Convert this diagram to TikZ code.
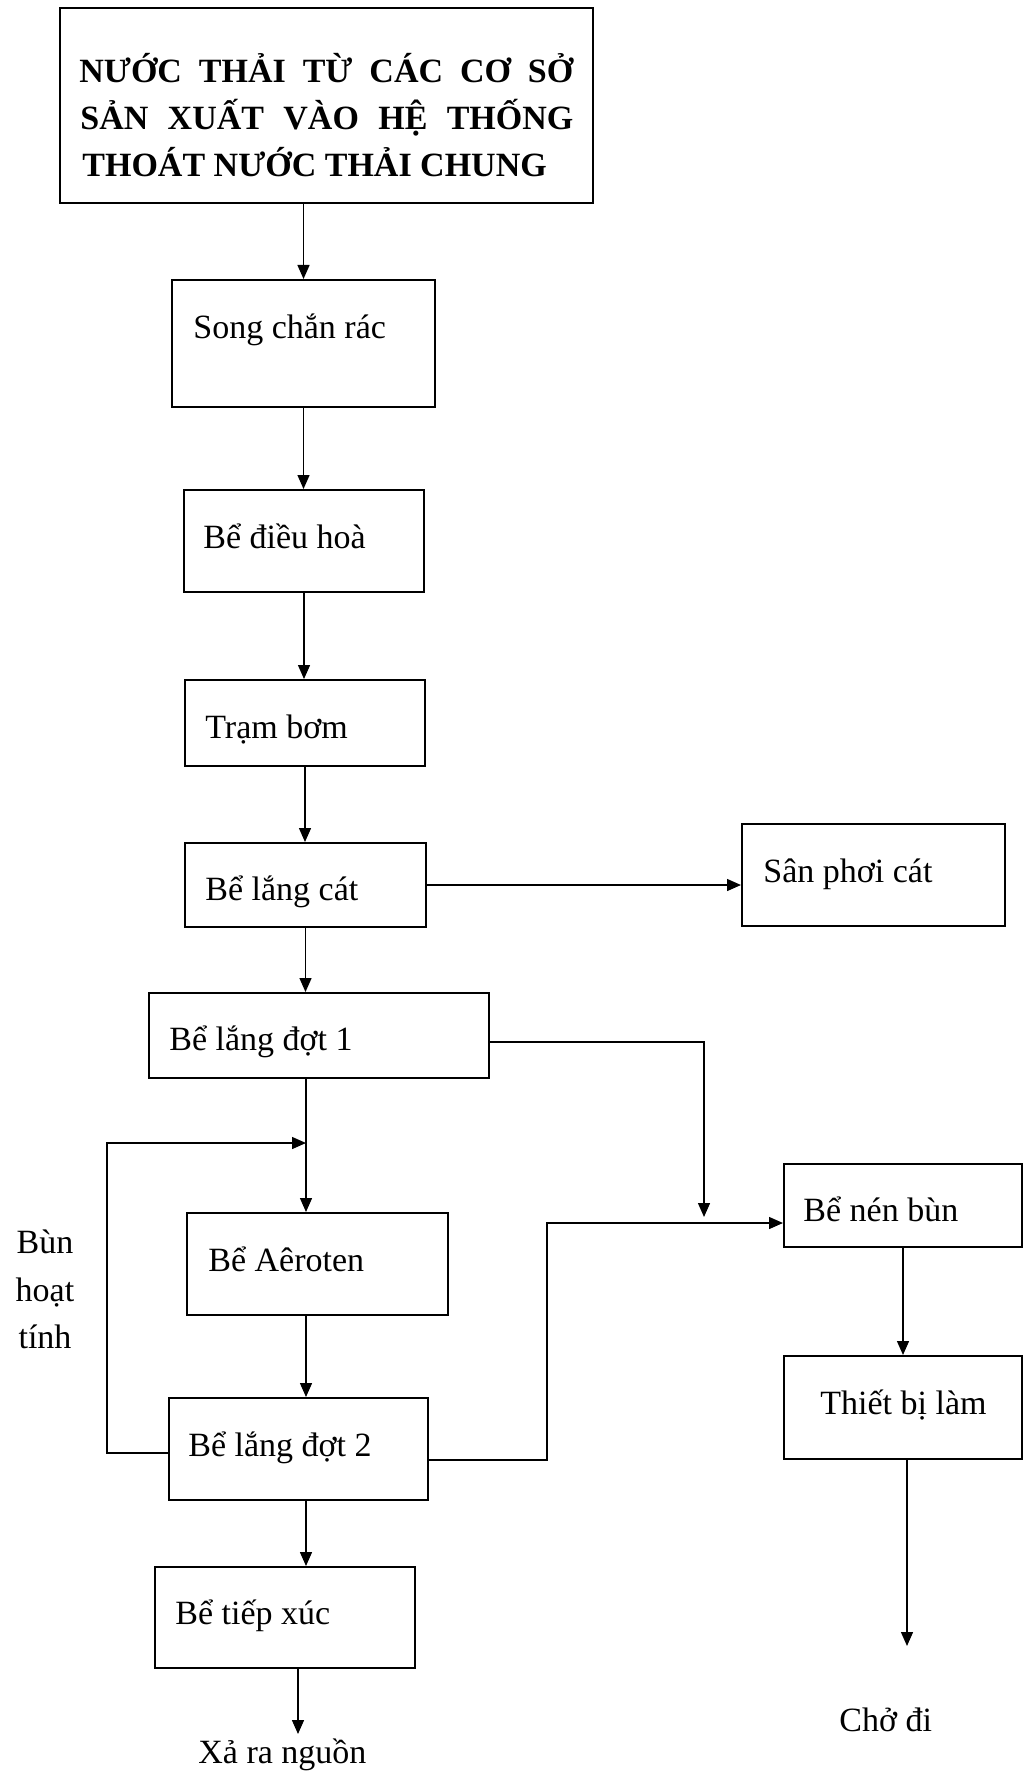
\documentclass[tikz,border=0pt]{standalone}
\usepackage{fontspec}
\setmainfont{Liberation Serif}
\usetikzlibrary{arrows.meta,fit}
\begin{document}
\begin{tikzpicture}[x=0.5pt,y=-0.5pt,
  box/.style={draw, line width=1pt, inner sep=0pt, rectangle},
  lbl/.style={anchor=base west, inner sep=0pt, font=\fontsize{17pt}{20pt}\selectfont},
  clbl/.style={anchor=base, inner sep=0pt, font=\fontsize{17pt}{20pt}\selectfont},
  ttl/.style={anchor=base west, inner sep=0pt, font=\fontsize{17pt}{20pt}\selectfont\bfseries},
  conn/.style={line width=0.7pt, -{Triangle[length=7pt,width=6pt]}},
  wire/.style={line width=0.7pt}]
\useasboundingbox (0,0) rectangle (1024,1771);

% boxes
\node[box, fit={(60,8) (593,203)}] (src) {};
\node[box, fit={(172,280) (435,407)}] (song) {};
\node[box, fit={(184,490) (424,592)}] (dieuhoa) {};
\node[box, fit={(185,680) (425,766)}] (trambom) {};
\node[box, fit={(185,843) (426,927)}] (langcat) {};
\node[box, fit={(742,824) (1005,926)}] (sanphoi) {};
\node[box, fit={(149,993) (489,1078)}] (lang1) {};
\node[box, fit={(187,1213) (448,1315)}] (aeroten) {};
\node[box, fit={(169,1398) (428,1500)}] (lang2) {};
\node[box, fit={(155,1567) (415,1668)}] (tiepxuc) {};
\node[box, fit={(784,1164) (1022,1247)}] (nenbun) {};
\node[box, fit={(784,1356) (1022,1459)}] (thietbi) {};

% title text
\node[ttl] (t1) at (79,83) {\makebox[247pt][s]{NƯỚC THẢI TỪ CÁC CƠ SỞ}};
\node[ttl] (t2) at (80,130) {\makebox[246.5pt][s]{SẢN XUẤT VÀO HỆ THỐNG}};
\node[ttl] (t3) at (82,177) {THOÁT NƯỚC THẢI CHUNG};

% box texts
\node[lbl] (songT) at (193,338) {Song chắn rác};
\node[lbl] (dieuhoaT) at (203,548) {Bể điều hoà};
\node[lbl] (trambomT) at (205,738) {Trạm bơm};
\node[lbl] (langcatT) at (205,900) {Bể lắng cát};
\node[lbl] (sanphoiT) at (763,882) {Sân phơi cát};
\node[lbl] (lang1T) at (169,1050) {Bể lắng đợt 1};
\node[lbl] (aerotenT) at (208,1271) {Bể Aêroten};
\node[lbl] (lang2T) at (188,1456) {Bể lắng đợt 2};
\node[lbl] (tiepxucT) at (175,1624) {Bể tiếp xúc};
\node[lbl] (nenbunT) at (803,1221) {Bể nén bùn};
\node[lbl] (thietbiT) at (820,1414) {Thiết bị làm};

% free labels
\node[lbl] (chodi) at (839,1731) {Chở đi};
\node[lbl] (xara) at (198,1763) {Xả ra nguồn};
\node[clbl] (bun1) at (45,1253) {Bùn};
\node[clbl] (bun2) at (45,1301) {hoạt};
\node[clbl] (bun3) at (45,1348) {tính};

% helper coordinates
\coordinate (colA) at (306,1143);
\coordinate (outEnd) at (298,1734);
\coordinate (r1) at (489,1042);
\coordinate (j1) at (704,1217);
\coordinate (r2) at (428,1460);
\coordinate (k) at (547,1223);
\coordinate (cEnd) at (907,1646);
\coordinate (rl) at (169,1453);

% connectors
\draw[conn] (src.south -| song.north) -- (song.north);
\draw[conn] (song.south) -- (song.south |- dieuhoa.north);
\draw[conn] (dieuhoa.south) -- (dieuhoa.south |- trambom.north);
\draw[conn] (trambom.south) -- (trambom.south |- langcat.north);
\draw[conn] (langcat.east) -- (langcat.east -| sanphoi.west);
\draw[conn] (langcat.south) -- (langcat.south |- lang1.north);
\draw[conn] (lang1.south -| colA) -- (aeroten.north -| colA);
\draw[conn] (lang2.west |- rl) -- ++(-61,0) |- (colA);
\draw[conn] (aeroten.south -| colA) -- (lang2.north -| colA);
\draw[conn] (lang2.south -| colA) -- (tiepxuc.north -| colA);
\draw[conn] (tiepxuc.south -| outEnd) -- (outEnd);
\draw[conn] (lang1.east |- r1) -| (j1);
\draw[conn] (lang2.east |- r2) -| (k) -- (k -| nenbun.west);
\draw[conn] (nenbun.south) -- (nenbun.south |- thietbi.north);
\draw[conn] (thietbi.south -| cEnd) -- (cEnd);
\end{tikzpicture}
\end{document}
